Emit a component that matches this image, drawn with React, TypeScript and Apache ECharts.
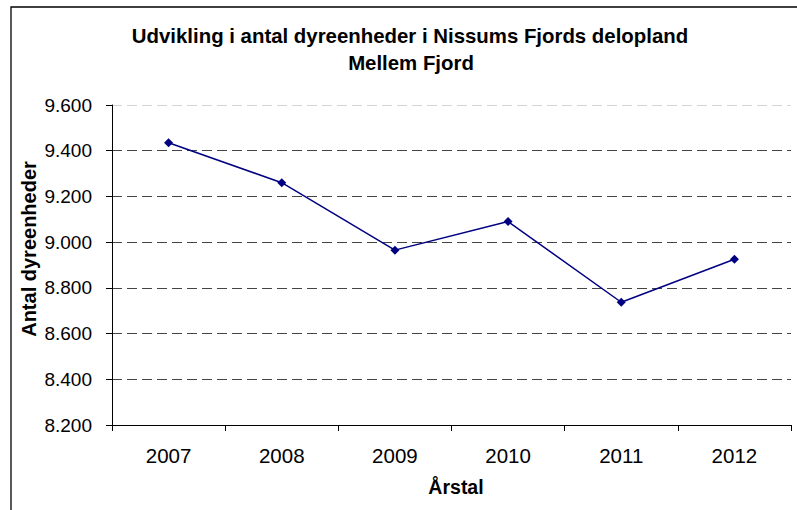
import React, { useEffect, useRef } from "react";
import * as echarts from "echarts";

const years = ["2007", "2008", "2009", "2010", "2011", "2012"];
const dyreenheder = [9435, 9260, 8965, 9090, 8737, 8925];
const yMin = 8200;
const yMax = 9600;
const yStep = 200;

const titleLine1 = "Udvikling i antal dyreenheder i Nissums Fjords delopland";
const titleLine2 = "Mellem Fjord";
const yTitle = "Antal dyreenheder";
const xTitle = "Årstal";

const fmt = (v: number) => {
  const th = Math.floor(v / 1000);
  const rest = String(Math.round(v % 1000)).padStart(3, "0");
  return th + "." + rest;
};

export default function App() {
  const ref = useRef<HTMLDivElement>(null);
  useEffect(() => {
    if (!ref.current) return;
    const chart = echarts.init(ref.current, null, { renderer: "svg" });
    const font = "Liberation Sans, Arial, sans-serif";
    chart.setOption({
      animation: false,
      backgroundColor: "#ffffff",
      textStyle: { fontFamily: font },
      grid: { left: 112, right: 6, top: 105, bottom: 85, containLabel: false },
      xAxis: {
        type: "category",
        data: years,
        boundaryGap: true,
        axisLine: { show: true, lineStyle: { color: "#000", width: 1 } },
        axisTick: { show: true, length: 6, inside: false, lineStyle: { color: "#000" }, alignWithLabel: false },
        axisLabel: { color: "#000", fontSize: 20.5, fontFamily: font, margin: 20 },
        splitLine: { show: false },
      },
      yAxis: {
        type: "value",
        min: yMin,
        max: yMax,
        interval: yStep,
        axisLine: { show: true, lineStyle: { color: "#000", width: 1 } },
        axisTick: { show: true, length: 6, lineStyle: { color: "#000" } },
        axisLabel: { color: "#000", fontSize: 19, fontFamily: font, margin: 20, formatter: fmt },
        splitLine: {
          show: true,
          lineStyle: {
            color: ["#444", "#444", "#444", "#444", "#444", "#444", "#444", "#d4d4d4"],
            type: [10, 5],
            width: 1,
          },
        },
      },
      series: [
        {
          type: "line",
          data: dyreenheder,
          color: "#000080",
          lineStyle: { color: "#000080", width: 1.5 },
          itemStyle: { color: "#000080" },
          symbol: "diamond",
          symbolSize: 9,
        },
      ],
      graphic: [
        {
          type: "rect",
          shape: { x: 11, y: 7, width: 900, height: 600 },
          style: { fill: "none", stroke: "#000", lineWidth: 1.3 },
          silent: true,
        },
        {
          type: "text",
          x: 410,
          y: 36,
          style: {
            text: titleLine1,
            fontSize: 20.4,
            fontWeight: "bold",
            fontFamily: font,
            fill: "#000",
            textAlign: "center",
            textVerticalAlign: "middle",
          },
        },
        {
          type: "text",
          x: 411,
          y: 63,
          style: {
            text: titleLine2,
            fontSize: 20.4,
            fontWeight: "bold",
            fontFamily: font,
            fill: "#000",
            textAlign: "center",
            textVerticalAlign: "middle",
          },
        },
        {
          type: "text",
          x: 29,
          y: 249,
          rotation: Math.PI / 2,
          style: {
            text: yTitle,
            fontSize: 20,
            fontWeight: "bold",
            fontFamily: font,
            fill: "#000",
            textAlign: "center",
            textVerticalAlign: "middle",
          },
        },
        {
          type: "text",
          x: 456,
          y: 487,
          style: {
            text: xTitle,
            fontSize: 19.5,
            fontWeight: "bold",
            fontFamily: font,
            fill: "#000",
            textAlign: "center",
            textVerticalAlign: "middle",
          },
        },
      ],
    });
    return () => chart.dispose();
  }, []);
  return (
    <div
      ref={ref}
      style={{ position: "fixed", left: 0, top: 0, width: 797, height: 510, background: "#fff" }}
    />
  );
}
